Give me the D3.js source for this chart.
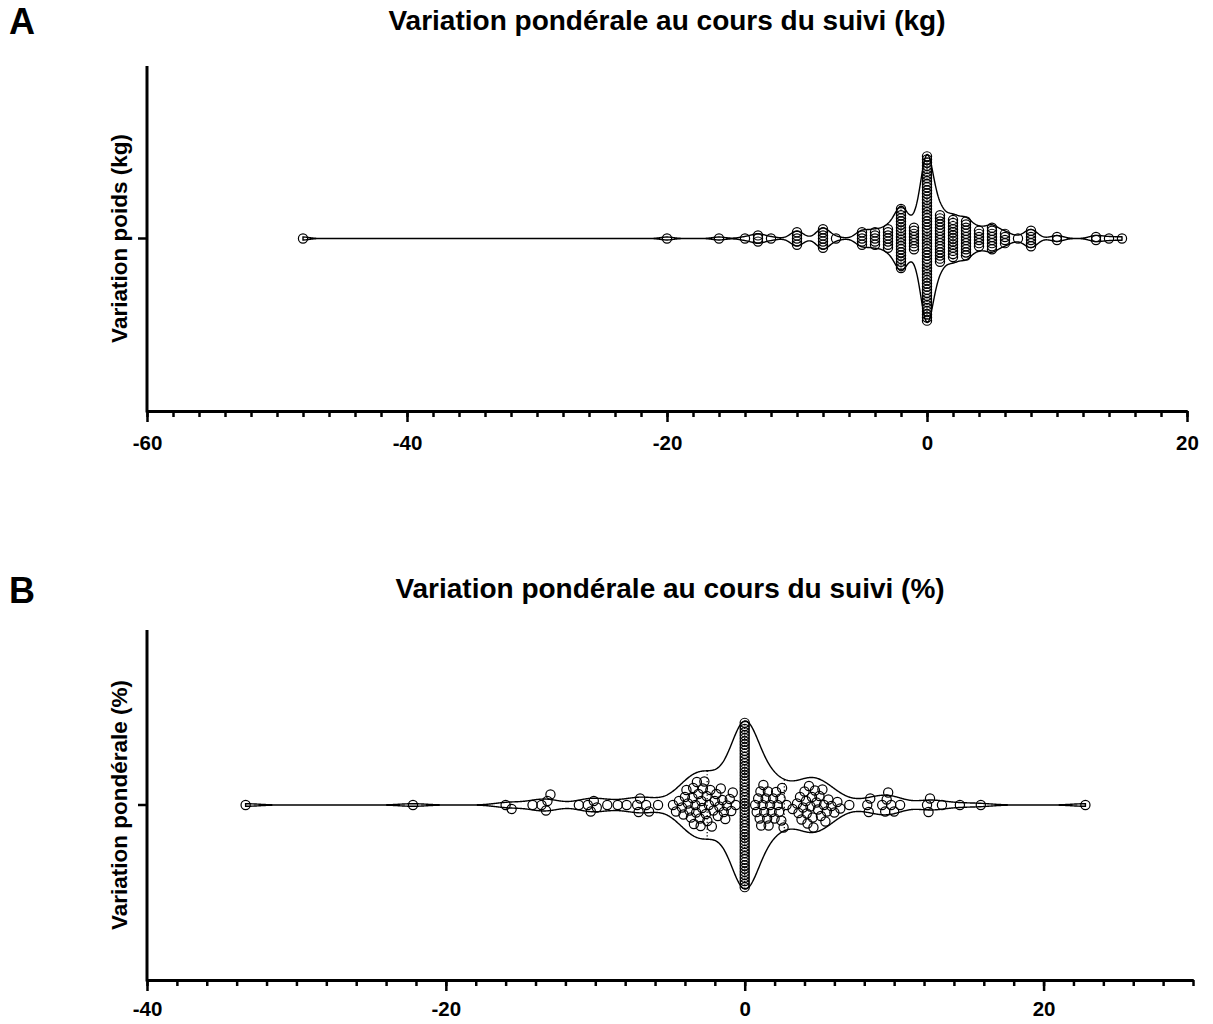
<!DOCTYPE html>
<html>
<head>
<meta charset="utf-8">
<script src="https://cdn.jsdelivr.net/npm/d3@7"></script>
<style>
  body { margin: 0; background: #fff; }
  text { font-family: "Liberation Sans", Arial, Helvetica, sans-serif; font-weight: bold; fill: #000; }
</style>
</head>
<body>
<svg id="chart" width="1213" height="1024"></svg>
<script>
// Weight change in kg: distinct values and number of patients at each value
const kgValues = [-48, -20, -16, -14, -13, -12, -10, -8, -7, -5, -4, -3, -2, -1, 0, 1, 2, 3, 4, 5, 6, 7, 8, 10, 13, 14, 15];
const kgCounts = [1, 1, 1, 1, 3, 1, 5, 7, 1, 5, 5, 7, 20, 8, 54, 16, 13, 12, 6, 8, 4, 1, 6, 2, 2, 1, 1];

// Weight change in percent
const pctLosses = [-33.4, -22.2, -16.0, -15.6, -14.2, -13.6, -13.3, -13.2, -13.0, -11.1, -10.5, -10.3, -10.1, -9.9,
  -9.2, -8.5, -7.9, -7.2, -7.1, -7.0, -6.6, -6.4, -5.8, -4.8, -4.6, -4.4,
  -4.2, -4.1, -4.0, -3.9, -3.8, -3.7, -3.6, -3.5, -3.45, -3.4, -3.3, -3.25, -3.2, -3.1, -3.0, -2.95, -2.9, -2.85,
  -2.8, -2.7, -2.6, -2.55, -2.5, -2.4, -2.3, -2.2, -2.1, -2.0, -1.9, -1.8, -1.7, -1.6, -1.5, -1.4, -1.3, -1.2,
  -1.0, -0.9, -0.8, -0.6];
const pctStableCount = 54;
const pctGains = [0.7, 0.8, 0.9, 1.0, 1.05, 1.1, 1.2, 1.25, 1.3, 1.4, 1.5, 1.55, 1.6, 1.7, 1.8, 1.9, 2.0, 2.1, 2.2,
  2.3, 2.4, 2.45, 2.5, 2.6, 2.8,
  3.2, 3.5, 3.6, 3.7, 3.8, 3.9, 4.0, 4.1, 4.15, 4.2, 4.3, 4.4, 4.5, 4.55, 4.6, 4.7, 4.8, 4.9, 5.0, 5.1, 5.2, 5.3,
  5.4, 5.5, 5.6, 5.8, 6.0, 6.2, 6.4,
  7.0, 8.2, 8.3, 8.4, 9.2, 9.4, 9.5, 9.6, 9.8, 10.0, 10.4, 12.2, 12.3, 12.4, 13.2, 14.4, 15.8, 22.8];

const kgTicks = [-60, -40, -20, 0, 20];
const pctTicks = [-40, -20, 0, 20];

const kgData = kgValues.flatMap((v, i) => d3.range(kgCounts[i]).map(() => v));
const pctData = [...pctLosses, ...d3.range(pctStableCount).map(() => 0), ...pctGains].sort(d3.ascending);

const svg = d3.select("#chart");

// Gaussian kernel density evaluated along the data range
function density(values, bandwidth, steps) {
  const [lo, hi] = d3.extent(values);
  return d3.range(steps + 1).map(i => {
    const x = lo + (hi - lo) * i / steps;
    return [x, d3.sum(values, v => Math.exp(-0.5 * ((x - v) / bandwidth) ** 2))];
  });
}

// Dot placement: identical values are stacked in a column, other values swarm around the centre line
function placeDots(values, x, cy, stackStep, minDist) {
  const groups = d3.rollups(values, g => g.length, v => v).sort((a, b) => d3.ascending(a[0], b[0]));
  const placed = [];
  groups.filter(g => g[1] > 1).forEach(([v, n]) => {
    for (let i = 0; i < n; i++) placed.push({ v, px: x(v), py: cy + (i - (n - 1) / 2) * stackStep });
  });
  groups.filter(g => g[1] === 1).forEach(([v]) => {
    const px = x(v);
    for (let k = 0; k < 400; k++) {
      const off = (k % 2 ? 1 : -1) * Math.ceil(k / 2) * 0.5;
      const py = cy + off;
      if (placed.every(p => (p.px - px) ** 2 + (p.py - py) ** 2 >= minDist * minDist)) {
        placed.push({ v, px, py });
        break;
      }
    }
  });
  return placed;
}

function drawPanel(cfg) {
  const g = svg.append("g");
  const x = d3.scaleLinear().domain(cfg.domain).range([cfg.left, cfg.right]);
  const y = d3.scaleBand().domain([""]).range([cfg.bottom, cfg.top]);
  const cy = y("") + y.bandwidth() / 2;

  // panel letter and title
  g.append("text").attr("x", 9).attr("y", cfg.letterY).attr("font-size", 36).text(cfg.letter);
  g.append("text").attr("x", (cfg.left + cfg.right) / 2).attr("y", cfg.titleY)
    .attr("text-anchor", "middle").attr("font-size", 28).text(cfg.title);
  g.append("text")
    .attr("transform", `translate(${cfg.left - 20},${cy}) rotate(-90)`)
    .attr("text-anchor", "middle").attr("font-size", 22.5).text(cfg.yLabel);

  // violin outline
  const dens = density(cfg.data, cfg.bandwidth, 1400);
  const maxD = d3.max(dens, d => d[1]);
  const w = d3.scaleLinear().domain([0, maxD]).range([0, cfg.maxHalf]);
  const area = d3.area()
    .x(d => x(d[0]))
    .y0(d => cy - w(d[1]))
    .y1(d => cy + w(d[1]));
  g.append("path").datum(dens).attr("d", area)
    .attr("fill", "none").attr("stroke", "#000").attr("stroke-width", 1.4);

  // quartile and median lines
  const sorted = cfg.data.slice().sort(d3.ascending);
  [d3.quantile(sorted, 0.25), d3.quantile(sorted, 0.5), d3.quantile(sorted, 0.75)].forEach(q => {
    const i = d3.bisector(d => d[0]).left(dens, q);
    const half = w(dens[Math.min(i, dens.length - 1)][1]);
    g.append("line").attr("x1", x(q)).attr("x2", x(q))
      .attr("y1", cy - half).attr("y2", cy + half)
      .attr("stroke", "#000").attr("stroke-width", 1.2).attr("stroke-dasharray", "1.2,2.2");
  });

  // individual patients
  const dots = placeDots(cfg.data, x, cy, cfg.stackStep, cfg.minDist);
  g.append("g").selectAll("circle").data(dots).join("circle")
    .attr("cx", d => d.px).attr("cy", d => d.py).attr("r", 4.6)
    .attr("fill", "none").attr("stroke", "#000").attr("stroke-width", 1.2);

  // axes
  const major = d3.axisBottom(x).tickValues(cfg.ticks).tickSize(11).tickSizeOuter(0).tickPadding(cfg.labelPad)
    .tickFormat(d => String(d));
  const minor = d3.axisBottom(x).tickValues(d3.range(cfg.domain[0], cfg.domain[1] + 0.1, 2))
    .tickSize(6).tickSizeOuter(0).tickFormat("");
  const ax = g.append("g").attr("transform", `translate(0,${cfg.bottom})`);
  ax.call(minor);
  const axM = g.append("g").attr("transform", `translate(0,${cfg.bottom})`).call(major);
  axM.selectAll("text").attr("font-size", 20.5)
    .style("font-family", '"Liberation Sans", Arial, sans-serif').style("font-weight", "bold");
  [ax, axM].forEach(a => {
    a.select(".domain").attr("stroke", "#000").attr("stroke-width", 3);
    a.selectAll(".tick line").attr("stroke", "#000").attr("stroke-width", 2.5);
  });
  const ay = g.append("g").attr("transform", `translate(${cfg.left},0)`)
    .call(d3.axisLeft(y).tickSize(9).tickSizeOuter(0));
  ay.select(".domain").attr("stroke", "#000").attr("stroke-width", 3)
    .attr("d", `M0,${cfg.top}V${cfg.bottom + 1.5}`);
  ay.selectAll(".tick line").attr("stroke", "#000").attr("stroke-width", 2.5);
}

drawPanel({
  letter: "A", letterY: 34, title: "Variation pondérale au cours du suivi (kg)", titleY: 30,
  yLabel: "Variation poids (kg)", data: kgData, domain: [-60, 20], ticks: kgTicks,
  left: 147, right: 1187, top: 66, bottom: 411, bandwidth: 0.5, maxHalf: 84,
  stackStep: 3.1, minDist: 7, labelPad: 13
});

drawPanel({
  letter: "B", letterY: 603, title: "Variation pondérale au cours du suivi (%)", titleY: 598,
  yLabel: "Variation pondérale (%)", data: pctData, domain: [-40, 30], ticks: pctTicks,
  left: 147, right: 1193, top: 630, bottom: 980, bandwidth: 0.9, maxHalf: 84,
  stackStep: 3.1, minDist: 7, labelPad: 10
});
</script>
</body>
</html>
